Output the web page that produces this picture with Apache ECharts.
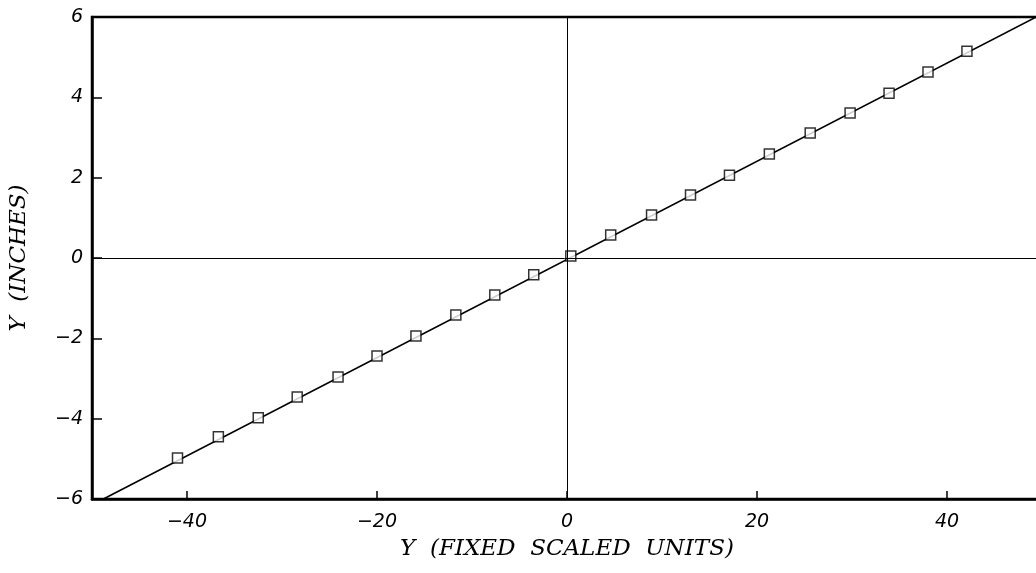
<!DOCTYPE html>
<html>
<head>
<meta charset="utf-8">
<script src="https://cdn.jsdelivr.net/npm/echarts@6/dist/echarts.min.js"></script>
<style>html,body{margin:0;padding:0;background:#fff;}#c{width:1036px;height:573px;}</style>
</head>
<body>
<div id="c"></div>
<script>
// Measured points (fixed scaled units, inches)
const pointX = [-41.0, -36.7, -32.5, -28.4, -24.1, -20.0, -15.9, -11.7, -7.6, -3.5, 0.4, 4.6, 8.9, 13.0, 17.1, 21.3, 25.6, 29.8, 33.9, 38.0, 42.1];
const pointY = [-4.98, -4.45, -3.98, -3.46, -2.96, -2.44, -1.94, -1.42, -0.92, -0.42, 0.05, 0.57, 1.07, 1.57, 2.06, 2.59, 3.11, 3.61, 4.10, 4.63, 5.15];
// Fitted line end points
const lineX = [-48.8, 49.4];
const lineY = [-6, 6];
const xTicks = [-40, -20, 0, 20, 40];
const yTicks = [-6, -4, -2, 0, 2, 4, 6];

const pts = pointX.map((x, i) => [x, pointY[i]]);
const line = lineX.map((x, i) => [x, lineY[i]]);

const chart = echarts.init(document.getElementById('c'));
const labelFont = {color: '#000', fontSize: 19, fontStyle: 'italic', fontFamily: 'DejaVu Sans'};
const nameFont = {color: '#000', fontSize: 23, fontStyle: 'italic', fontFamily: 'DejaVu Serif'};
chart.setOption({
  animation: false,
  backgroundColor: '#fff',
  grid: {left: 92, top: 17, width: 950, height: 482, containLabel: false, outerBoundsMode: 'none',
    show: true, borderColor: '#000', borderWidth: 2.5, backgroundColor: 'transparent'},
  xAxis: {
    type: 'value', min: -50, max: 50, interval: 10,
    name: 'Y  (FIXED  SCALED  UNITS)', nameLocation: 'middle', nameGap: 39,
    nameTextStyle: nameFont,
    axisLine: {show: true, onZero: false, lineStyle: {color: '#000', width: 2.5}},
    axisTick: {show: true, inside: true, length: 8, lineStyle: {color: '#000', width: 1.5},
      customValues: xTicks},
    axisLabel: Object.assign({margin: 14, customValues: xTicks, formatter: v => String(v).replace('-', '\u2212')}, labelFont),
    splitLine: {show: false}
  },
  yAxis: {
    type: 'value', min: -6, max: 6, interval: 2,
    name: 'Y  (INCHES)', nameLocation: 'middle', nameGap: 61,
    nameTextStyle: nameFont,
    axisLine: {show: true, onZero: false, lineStyle: {color: '#000', width: 2.5}},
    axisTick: {show: true, inside: true, length: 10, lineStyle: {color: '#000', width: 1.5},
      customValues: yTicks},
    axisLabel: Object.assign({margin: 9, customValues: yTicks, formatter: v => String(v).replace('-', '\u2212')}, labelFont),
    splitLine: {show: false}
  },
  series: [
    {
      type: 'line', data: line, showSymbol: false, symbol: 'none',
      lineStyle: {color: '#000', width: 1.5}, z: 2,
      markLine: {
        silent: true, symbol: 'none', label: {show: false},
        lineStyle: {color: '#000', width: 1, type: 'solid'},
        data: [{xAxis: 0}, {yAxis: 0}]
      }
    },
    {
      type: 'scatter', data: pts, symbol: 'rect', symbolSize: 10,
      itemStyle: {color: '#fff', borderColor: '#000', borderWidth: 1.5}, z: 3
    }
  ]
});
</script>
</body>
</html>
